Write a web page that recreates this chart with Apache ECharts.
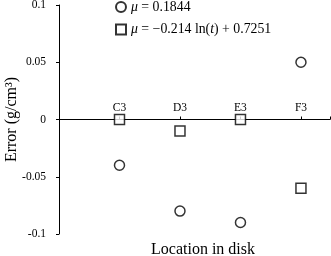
<!DOCTYPE html>
<html><head><meta charset="utf-8">
<script src="https://cdn.jsdelivr.net/npm/echarts@6/dist/echarts.min.js"></script>
<style>html,body{margin:0;padding:0;background:#fff}#c{width:331px;height:256px}</style>
</head><body><div id="c"></div>
<script>
var categories = ['C3', 'D3', 'E3', 'F3'];
var constMu = [-0.04, -0.08, -0.09, 0.05];
var logMu = [0, -0.01, 0, -0.06];
var yTicks = [-0.1, -0.05, 0, 0.05, 0.1];

var font = 'Liberation Serif';
function pts(vals) { return vals.map(function (v, i) { return [i + 1, v]; }); }
var chart = echarts.init(document.getElementById('c'));
chart.setOption({
  animation: false,
  backgroundColor: '#fff',
  textStyle: { fontFamily: font, color: '#000' },
  grid: { left: 59, right: 1, top: 5, bottom: 22, containLabel: false, outerBoundsMode: 'none' },
  legend: {
    orient: 'vertical', left: 110, top: -5, itemGap: 8.5, itemWidth: 10, itemHeight: 10,
    textStyle: {
      fontFamily: font, fontSize: 13.8, color: '#000',
      rich: { i: { fontFamily: font, fontStyle: 'italic', fontSize: 13.8 } }
    },
    formatter: function (n) {
      if (n === 'c') return '{i|μ} = 0.1844';
      return '{i|μ} = −0.214 ln({i|t}) + 0.7251';
    },
    data: ['c', 's']
  },
  xAxis: {
    type: 'value', min: 0, max: 4.48, interval: 1,
    axisLine: { onZero: true, lineStyle: { color: '#000', width: 1 } },
    axisTick: { inside: true, length: 3, lineStyle: { color: '#000' } },
    axisLabel: {
      inside: true, margin: 120, fontFamily: font, fontSize: 11.5, color: '#000',
      formatter: function (v) { return categories[v - 1] || ''; }
    },
    splitLine: { show: false },
    name: 'Location in disk', nameLocation: 'middle', nameGap: 8,
    nameTextStyle: { fontFamily: font, fontSize: 16, color: '#000', padding: [0, 0, 0, 17] }
  },
  yAxis: {
    type: 'value', min: yTicks[0], max: yTicks[yTicks.length - 1], interval: 0.05,
    axisLine: { show: true, lineStyle: { color: '#000', width: 1 } },
    axisTick: { show: true, length: 3, lineStyle: { color: '#000' } },
    axisLabel: { margin: 13, fontFamily: font, fontSize: 11.5, color: '#000' },
    splitLine: { show: false },
    name: 'Error (g/cm³)', nameLocation: 'middle', nameGap: 39, nameMoveOverlap: false,
    nameTextStyle: { fontFamily: font, fontSize: 16, color: '#000' }
  },
  series: [
    { name: 'c', type: 'scatter', symbol: 'circle', symbolSize: 10, data: pts(constMu),
      itemStyle: { color: '#fff', borderColor: '#000', borderWidth: 1.5 } },
    { name: 's', type: 'scatter', symbol: 'rect', symbolSize: 10, data: pts(logMu),
      itemStyle: { color: '#fff', borderColor: '#000', borderWidth: 1.5 } }
  ]
});
</script></body></html>
